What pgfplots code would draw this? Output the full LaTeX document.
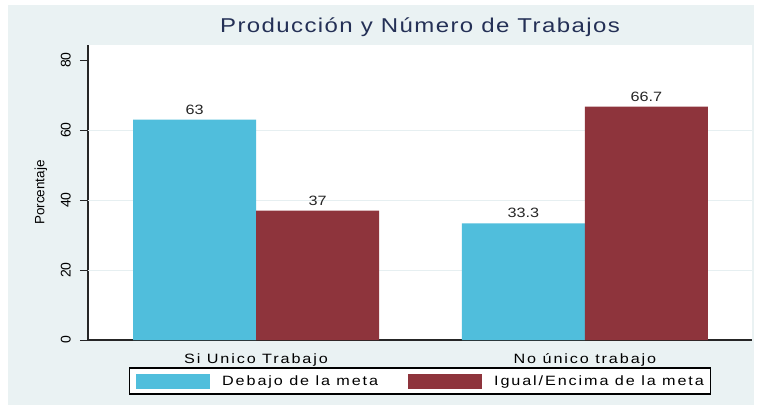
\documentclass[border=0pt]{standalone}
\usepackage{pgfplots}
\pgfplotsset{compat=1.18}
\usepackage{fontspec}
\setmainfont{Liberation Sans}[FakeStretch=1.2]
\newfontfamily\spfont{Liberation Sans}[FakeStretch=1.2, LetterSpace=14]
\newfontfamily\tfont{Liberation Sans}[FakeStretch=1.2, LetterSpace=7]
\newfontfamily\rotfont{Liberation Sans}
\definecolor{bgcol}{RGB}{234,242,243}
\definecolor{gridcol}{RGB}{230,239,241}
\definecolor{barblue}{RGB}{80,190,220}
\definecolor{barred}{RGB}{142,52,60}
\definecolor{titlecol}{RGB}{36,48,86}
\begin{document}
\begin{tikzpicture}
\fill[white] (-88bp,-69bp) rectangle (673bp,340bp);
\fill[bgcol] (-80bp,-65bp) rectangle (666bp,335bp);
\begin{axis}[
  at={(0,0)}, anchor=south west,
  scale only axis, width=664bp, height=295bp,
  axis background/.style={fill=white},
  xmin=-0.511, xmax=1.508, ymin=0, ymax=84.29,
  axis x line*=bottom, axis y line*=left,
  axis line style={line width=1.1bp, black!85},
  /pgf/number format/assume math mode=true,
  ybar=0pt, bar width=123bp,
  xtick={0,1}, xticklabels={Si Unico Trabajo, No único trabajo},
  xtick style={draw=none},
  xticklabel style={font=\spfont\fontsize{13.5bp}{16bp}\selectfont, anchor=base, yshift=-15bp, inner sep=0pt},
  ytick={0,20,40,60,80},
  ytick align=outside, ytick style={line width=1bp, black!85},
  major tick length=8bp,
  yticklabel style={font=\rotfont\fontsize{14bp}{16bp}\selectfont, rotate=90, anchor=south, inner sep=0pt},
  yticklabel shift=9bp,
  extra y ticks={20,40,60}, extra y tick labels={},
  extra y tick style={grid=major, major tick length=0pt, major grid style={gridcol, line width=1bp}},
  ylabel={Porcentaje},
  ylabel style={font=\rotfont\fontsize{13.5bp}{16bp}\selectfont, at={(axis description cs:-0.0708,0.5)}, anchor=center},
  title={Producción y Número de Trabajos},
  title style={font=\tfont\fontsize{20bp}{24bp}\selectfont, text=titlecol, at={(axis description cs:0.5,1)}, anchor=base, yshift=7bp, inner sep=0pt},
  nodes near coords,
  every node near coord/.append style={font=\fontsize{13.5bp}{16bp}\selectfont, text=black!85, anchor=base, yshift=5.5bp, inner sep=0pt},
  legend columns=2,
  legend image code/.code={\fill[#1] (0bp,-7.5bp) rectangle (74bp,7.5bp);},
  legend style={at={(axis description cs:0.5,-0.139)}, anchor=center,
    draw=black, line width=1.1bp, fill=white,
    inner xsep=7bp, inner ysep=5.5bp,
    font=\spfont\fontsize{13.5bp}{16bp}\selectfont,
    nodes={inner sep=0pt, anchor=west},
    column sep=12bp,
    /tikz/every even column/.append style={column sep=30bp}},
]
\addplot[fill=barblue, draw=none] coordinates {(0,63) (1,33.3)};
\addplot[fill=barred, draw=none] coordinates {(0,37) (1,66.7)};
\legend{Debajo de la meta, Igual/Encima de la meta}
\end{axis}
\pgfresetboundingbox
\path[use as bounding box] (-88bp,-69bp) rectangle (673bp,340bp);
\end{tikzpicture}
\end{document}
